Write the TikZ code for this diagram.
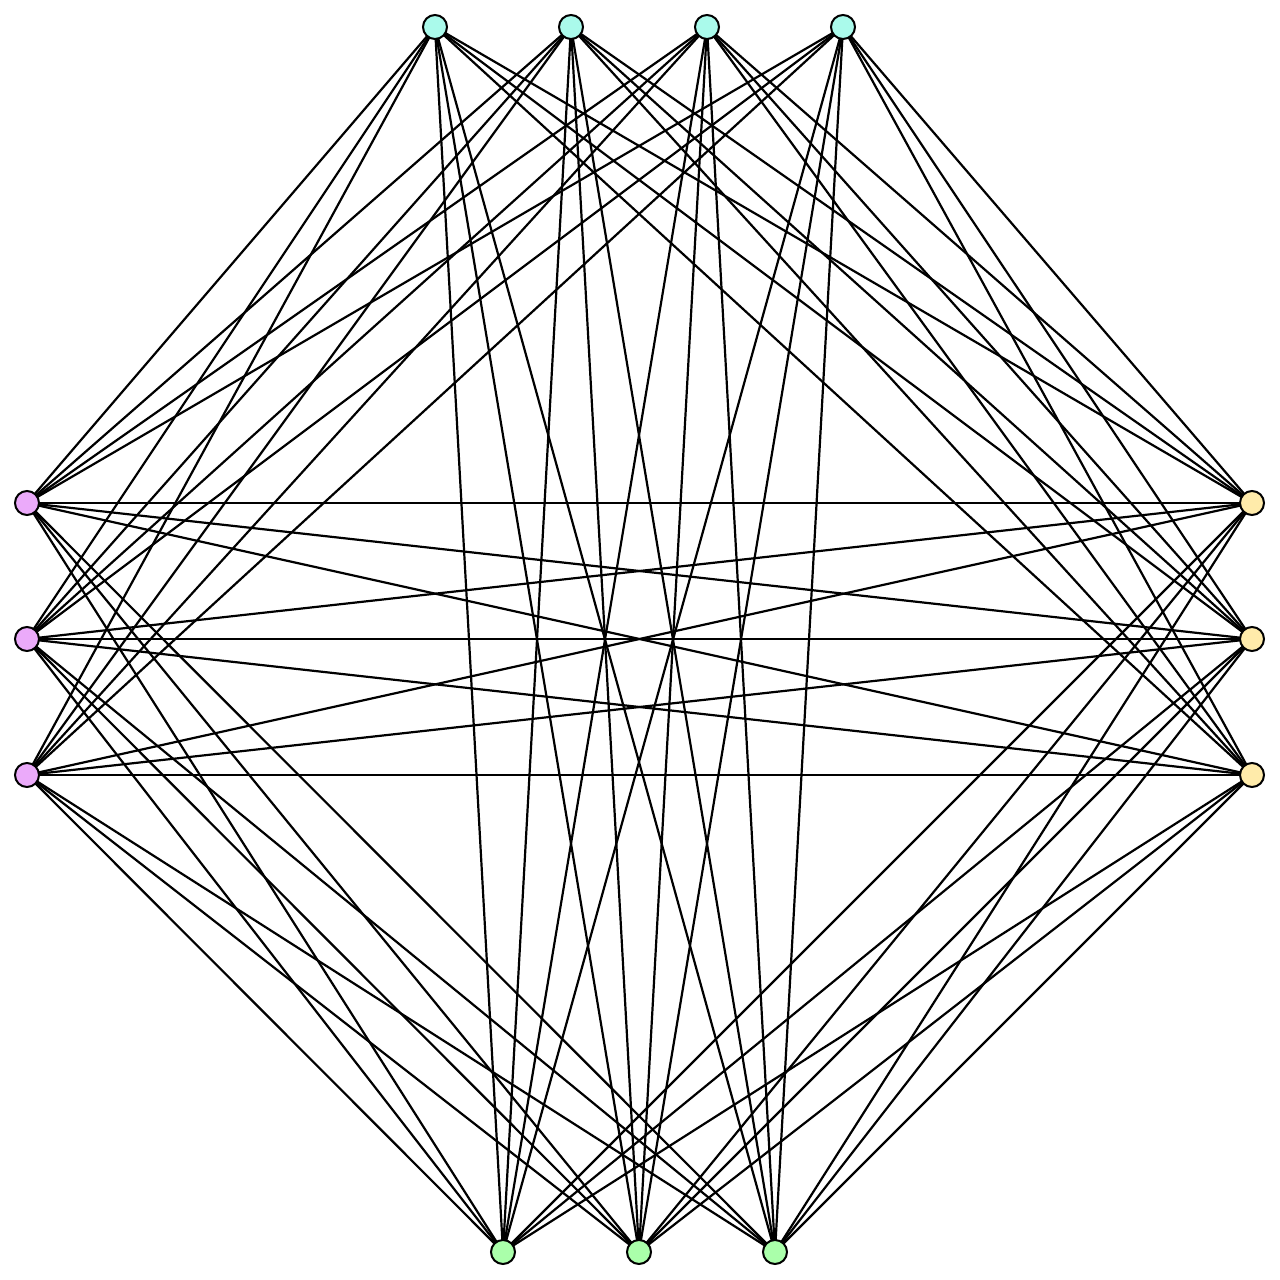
\documentclass[tikz,border=0pt]{standalone}
\definecolor{cyanfill}{RGB}{170,250,235}
\definecolor{pinkfill}{RGB}{235,170,250}
\definecolor{yellowfill}{RGB}{255,235,170}
\definecolor{greenfill}{RGB}{170,255,170}
\tikzset{
  vtx/.style={circle,draw=black,line width=2pt,minimum size=24pt,inner sep=0pt},
  edge/.style={draw=black,line width=2.2pt},
}
\begin{document}
\begin{tikzpicture}[x=1pt,y=-1pt]
\useasboundingbox (0,0) rectangle (1280,1280);
\foreach \i/\x in {1/435,2/571,3/707,4/843} \coordinate (t\i) at (\x,27);
\foreach \i/\y in {1/503,2/639,3/775} \coordinate (l\i) at (27,\y);
\foreach \i/\y in {1/503,2/639,3/775} \coordinate (r\i) at (1252,\y);
\foreach \i/\x in {1/503,2/639,3/775} \coordinate (b\i) at (\x,1252);
% edges
\foreach \a in {t1,t2,t3,t4}{
  \foreach \b in {l1,l2,l3,r1,r2,r3,b1,b2,b3} \draw[edge] (\a) -- (\b);
}
\foreach \a in {l1,l2,l3}{
  \foreach \b in {r1,r2,r3,b1,b2,b3} \draw[edge] (\a) -- (\b);
}
\foreach \a in {r1,r2,r3}{
  \foreach \b in {b1,b2,b3} \draw[edge] (\a) -- (\b);
}
% nodes
\foreach \i in {1,2,3,4} \node[vtx,fill=cyanfill] (T\i) at (t\i) {};
\foreach \i in {1,2,3} \node[vtx,fill=pinkfill] (L\i) at (l\i) {};
\foreach \i in {1,2,3} \node[vtx,fill=yellowfill] (R\i) at (r\i) {};
\foreach \i in {1,2,3} \node[vtx,fill=greenfill] (B\i) at (b\i) {};
\end{tikzpicture}
\end{document}
